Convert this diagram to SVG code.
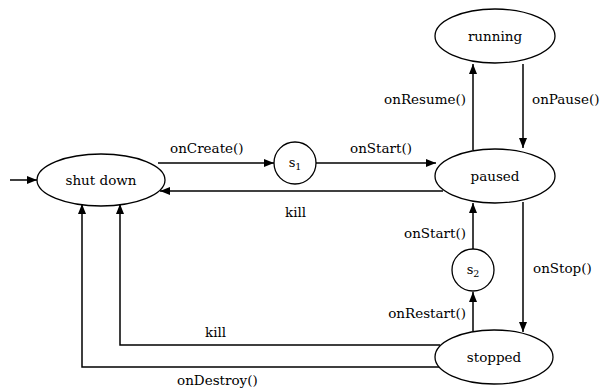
<svg xmlns="http://www.w3.org/2000/svg" width="604" height="390" viewBox="0 0 604 390">
<style>
.n{fill:#fff;stroke:#000;stroke-width:1.3}
.c{fill:none;stroke:#000;stroke-width:1.5}
text{font-family:'DejaVu Serif',serif;font-size:13.5px;fill:#000}
.m{text-anchor:middle}
.e{text-anchor:end}
.s{font-size:13px}
.b{font-size:9.5px}
</style>
<defs>
<marker id="a" viewBox="0 0 10 8" refX="10" refY="4" markerWidth="10" markerHeight="8" markerUnits="userSpaceOnUse" orient="auto">
<path d="M0,0 L10,4 L0,8 Z" fill="#000"/>
</marker>
</defs>
<g id="connectors">
<line class="c" x1="10" y1="180" x2="37" y2="180" marker-end="url(#a)"/>
<line class="c" x1="158" y1="163" x2="274" y2="163" marker-end="url(#a)"/>
<line class="c" x1="316" y1="163" x2="436" y2="163" marker-end="url(#a)"/>
<line class="c" x1="443" y1="191" x2="160" y2="191" marker-end="url(#a)"/>
<line class="c" x1="473" y1="150" x2="473" y2="64" marker-end="url(#a)"/>
<line class="c" x1="523" y1="64" x2="523" y2="148" marker-end="url(#a)"/>
<line class="c" x1="523" y1="202" x2="523" y2="332" marker-end="url(#a)"/>
<line class="c" x1="473" y1="249" x2="473" y2="203" marker-end="url(#a)"/>
<line class="c" x1="473" y1="331" x2="473" y2="292" marker-end="url(#a)"/>
<polyline class="c" points="440,345 120,345 120,204" marker-end="url(#a)"/>
<polyline class="c" points="440,367 82,367 82,204" marker-end="url(#a)"/>
<text x="170" y="153">onCreate()</text>
<text x="381" y="153" class="m">onStart()</text>
<text x="285" y="217">kill</text>
<text x="466" y="104" class="e">onResume()</text>
<text x="532" y="104">onPause()</text>
<text x="466" y="238" class="e">onStart()</text>
<text x="533" y="273">onStop()</text>
<text x="466" y="318" class="e">onRestart()</text>
<text x="205" y="337">kill</text>
<text x="177" y="385">onDestroy()</text>
</g>
<g id="shutdown">
<ellipse class="n" cx="101" cy="180" rx="64" ry="26"/>
<text x="101" y="185" class="m">shut down</text>
</g>
<g id="s1">
<circle class="n" cx="295" cy="163" r="21"/>
<text x="295" y="167" class="m s">s<tspan dy="3" class="b">1</tspan></text>
</g>
<g id="running">
<ellipse class="n" cx="495" cy="36" rx="60" ry="27"/>
<text x="495" y="41" class="m">running</text>
</g>
<g id="paused">
<ellipse class="n" cx="495" cy="176" rx="60" ry="27"/>
<text x="495" y="181" class="m">paused</text>
</g>
<g id="s2">
<circle class="n" cx="473" cy="270" r="21"/>
<text x="473" y="274" class="m s">s<tspan dy="3" class="b">2</tspan></text>
</g>
<g id="stopped">
<ellipse class="n" cx="494" cy="357" rx="59" ry="27"/>
<text x="494" y="362" class="m">stopped</text>
</g>
</svg>
